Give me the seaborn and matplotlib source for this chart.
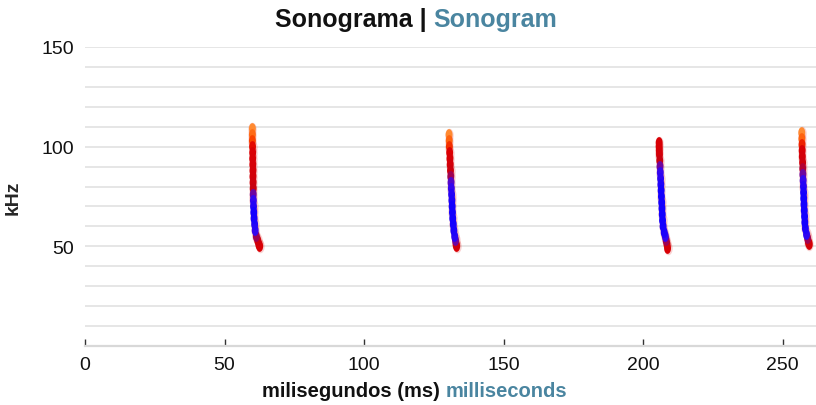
import numpy as np
import pandas as pd
import matplotlib
matplotlib.use('Agg')
import matplotlib.pyplot as plt
import seaborn as sns
from matplotlib.colors import LinearSegmentedColormap

# 四个回声定位叫声的轮廓点 (时间 ms, 频率 kHz, 强度 0-1)
call1_ms = [60.0, 60.0, 60.0, 60.05, 60.1, 60.1, 60.15, 60.2, 60.2, 60.25, 60.3,
            60.3, 60.35, 60.4, 60.5, 60.6, 60.8, 61.0, 61.4, 61.9, 62.3, 62.6]
call1_khz = [109, 106, 103, 100, 97, 94, 91, 88, 85, 82, 79,
             76, 73, 70, 67, 64, 61, 58, 55, 53, 51, 50]
call1_level = [0.1, 0.18, 0.28, 0.4, 0.48, 0.5, 0.52, 0.54, 0.56, 0.6, 0.66,
               0.75, 0.85, 0.92, 1.0, 0.98, 0.92, 0.85, 0.7, 0.58, 0.5, 0.48]

call2_ms = [130.5, 130.55, 130.6, 130.7, 130.8, 130.9, 131.0, 131.1, 131.2, 131.3, 131.4,
            131.5, 131.6, 131.7, 131.8, 132.0, 132.2, 132.5, 132.8, 133.0, 133.2]
call2_khz = [106, 103, 100, 97, 94, 91, 88, 85, 82, 79, 76,
             73, 70, 67, 64, 61, 58, 55, 53, 51, 50]
call2_level = [0.1, 0.2, 0.32, 0.45, 0.5, 0.55, 0.62, 0.7, 0.78, 0.85, 0.92,
               0.95, 1.0, 1.0, 1.0, 0.98, 0.95, 0.9, 0.75, 0.6, 0.5]

call3_ms = [205.8, 205.8, 205.85, 205.9, 206.0, 206.1, 206.2, 206.3, 206.4, 206.5, 206.6,
            206.7, 206.8, 206.9, 207.0, 207.2, 207.6, 208.0, 208.3, 208.6, 208.8]
call3_khz = [102, 100, 98, 96, 93, 90, 87, 84, 81, 78, 75,
             72, 69, 66, 63, 60, 57, 55, 53, 51, 49]
call3_level = [0.5, 0.5, 0.5, 0.55, 0.65, 0.75, 0.85, 0.9, 0.95, 1.0, 1.0,
               1.0, 1.0, 1.0, 1.0, 0.98, 0.95, 0.85, 0.7, 0.55, 0.5]

call4_ms = [256.9, 256.95, 257.0, 257.05, 257.1, 257.2, 257.25, 257.3, 257.4, 257.5, 257.55,
            257.6, 257.7, 257.8, 257.9, 258.0, 258.2, 258.6, 259.0, 259.3, 259.6]
call4_khz = [107, 104, 101, 98, 95, 92, 89, 86, 83, 80, 77,
             74, 71, 68, 65, 62, 59, 56, 54, 52, 51]
call4_level = [0.1, 0.2, 0.35, 0.5, 0.55, 0.6, 0.68, 0.75, 0.85, 0.92, 0.97,
               1.0, 1.0, 1.0, 1.0, 1.0, 0.95, 0.88, 0.7, 0.55, 0.5]

y_grid = list(range(10, 151, 10))
y_labeled = [50, 100, 150]
x_ticks = [0, 50, 100, 150, 200, 250]

BLUE_TXT = '#4a85a0'

df = pd.concat([
    pd.DataFrame({'ms': call1_ms, 'khz': call1_khz, 'level': call1_level}),
    pd.DataFrame({'ms': call2_ms, 'khz': call2_khz, 'level': call2_level}),
    pd.DataFrame({'ms': call3_ms, 'khz': call3_khz, 'level': call3_level}),
    pd.DataFrame({'ms': call4_ms, 'khz': call4_khz, 'level': call4_level}),
], ignore_index=True).sort_values('level')

sns.set_style("white")
plt.rcParams['font.family'] = ['Liberation Sans', 'DejaVu Sans']

# 低强度橙色 -> 红色 -> 高强度蓝色
cmap = LinearSegmentedColormap.from_list('sono', [
    (0.0, '#ffb050'), (0.25, '#ff5000'), (0.42, '#e00000'),
    (0.66, '#c80010'), (0.8, '#4008e8'), (1.0, '#1400ff')])

# 竖向椭圆点，让轮廓连成一条线
th = np.linspace(0, 2 * np.pi, 40)
oval = np.column_stack([0.62 * np.cos(th), np.sin(th)])

fig = plt.figure(figsize=(8.16, 4.06), dpi=100)
ax = fig.add_axes([85 / 816, 59 / 406, 731 / 816, 299 / 406])

# 外圈淡红色光晕
sns.scatterplot(data=df, x='ms', y='khz', color='#e02020', s=95, alpha=0.2,
                marker=oval, linewidth=0, ax=ax, legend=False)
sns.scatterplot(data=df, x='ms', y='khz', hue='level', palette=cmap, hue_norm=(0, 1),
                s=64, marker=oval, linewidth=0, ax=ax, legend=False)

ax.set_xlim(0, 262)
ax.set_ylim(0, 150)
ax.set_yticks(y_grid)
ax.set_yticklabels([str(v) if v in y_labeled else '' for v in y_grid])
ax.set_xticks(x_ticks)
ax.grid(axis='y', color='#e2e2e2', linewidth=1.2)
ax.set_axisbelow(True)
for s in ['top', 'right', 'left']:
    ax.spines[s].set_visible(False)
ax.spines['bottom'].set_color('#d8d8d8')
ax.spines['bottom'].set_linewidth(1.6)
ax.tick_params(axis='y', left=False, length=0, labelsize=14, pad=8, colors='#111111')
ax.tick_params(axis='x', bottom=True, direction='in', length=5, width=1, color='#333333',
               labelsize=14, pad=7, labelcolor='#111111')
ax.set_xlabel('')
ax.set_ylabel('kHz', fontsize=14, fontweight='bold', labelpad=10)
ax.yaxis.set_label_coords(-0.087, 0.5)


def two_tone(y, left_txt, right_txt, size, cx):
    t1 = fig.text(0, y, left_txt, fontsize=size, fontweight='bold', color='#111111',
                  ha='left', va='center')
    t2 = fig.text(0, y, right_txt, fontsize=size, fontweight='bold', color=BLUE_TXT,
                  ha='left', va='center')
    fig.canvas.draw()
    r = fig.canvas.get_renderer()
    w1 = t1.get_window_extent(r).width / fig.bbox.width
    w2 = t2.get_window_extent(r).width / fig.bbox.width
    x0 = cx - (w1 + w2) / 2
    t1.set_x(x0)
    t2.set_x(x0 + w1)


two_tone(1 - 20 / 406, 'Sonograma | ', 'Sonogram', 18, 416 / 816)
two_tone(1 - 392 / 406, 'milisegundos (ms) ', 'milliseconds', 14.5, 415 / 816)

plt.savefig('out.png', dpi=100)
plt.close()
